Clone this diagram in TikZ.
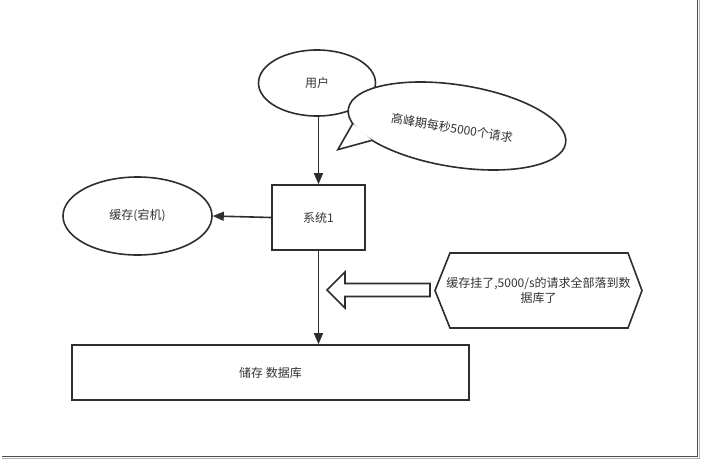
\documentclass[tikz,border=0pt]{standalone}
\usepackage{fontspec}
\setmainfont{Noto Sans CJK SC}
\usetikzlibrary{shapes.geometric,arrows.meta}
\definecolor{ln}{HTML}{2E2E2E}
\definecolor{tx}{HTML}{333333}
\tikzset{
  every node/.style={font=\fontsize{12}{15.5}\selectfont, text=tx},
  shp/.style={draw=ln, line width=1.6pt, fill=white},
  oval/.style={shp, ellipse, inner sep=0pt},
  arr/.style={draw=ln, line width=1.6pt, -{Triangle[length=11pt,width=9pt]}},
}
\begin{document}
\begin{tikzpicture}[x=1pt,y=1pt]
\useasboundingbox (0,0) rectangle (702,-460);
\fill[white] (0,0) rectangle (702,-460);
% frame
\draw[gray!60, line width=1.5pt] (699.5,0) -- (699.5,-458.5) -- (2,-458.5);
\draw[black!70, line width=1.6pt] (697.5,0) -- (697.5,-456.5) -- (2,-456.5);

% nodes
\node[oval, minimum width=117, minimum height=66] (user) at (317,-83) {用户};
\node[shp, rectangle, minimum width=93, minimum height=65] (sys) at (318.5,-217.5) {系统1};
\node[oval, minimum width=149, minimum height=78] (cache) at (137.5,-216) {缓存(宕机)};
\node[shp, rectangle, minimum width=397, minimum height=55] (db) at (270.5,-372.5) {储存 数据库};

% speech bubble
\node[oval, minimum width=220, minimum height=82, rotate=-9] (bubble) at (457,-126) {};
\begin{scope}[shift={(457,-126)}, rotate=-9]
  \coordinate (tb1) at (-103.4,-14.0);
  \coordinate (tip) at (-114,-42);
  \coordinate (tb2) at (-81.7,-27.4);
  \fill[white] (tb1) -- (tip) -- (tb2) -- cycle;
  \draw[ln, line width=1.6pt, line join=miter] (tb1) -- (tip) -- (tb2);
\end{scope}
\node[rotate=-9] (btext) at (452,-128) {高峰期每秒5000个请求};

% hexagon
\coordinate (h1) at (435,-290.5);
\coordinate (h2) at (450,-253);
\coordinate (h3) at (628,-253);
\coordinate (h4) at (642,-290.5);
\coordinate (h5) at (628,-328);
\coordinate (h6) at (450,-328);
\draw[shp] (h1) -- (h2) -- (h3) -- (h4) -- (h5) -- (h6) -- cycle;
\node[align=center] (hex) at (538.5,-290.5) {缓存挂了,5000/s的请求全部落到数\\据库了};

% hollow arrow
\coordinate (a1) at (327,-290);
\coordinate (a2) at (345,-272);
\coordinate (a3) at (345,-283.5);
\coordinate (a4) at (430,-283.5);
\coordinate (a5) at (430,-296.5);
\coordinate (a6) at (345,-296.5);
\coordinate (a7) at (345,-308);
\draw[shp, line join=miter] (a1) -- (a2) -- (a3) -- (a4) -- (a5) -- (a6) -- (a7) -- cycle;

% connectors
\draw[arr] (user.south -| sys.north) -- (sys.north);
\draw[arr] (sys.west) -- (cache.east);
\draw[arr] (sys.south) -- (sys.south |- db.north);
\end{tikzpicture}
\end{document}
